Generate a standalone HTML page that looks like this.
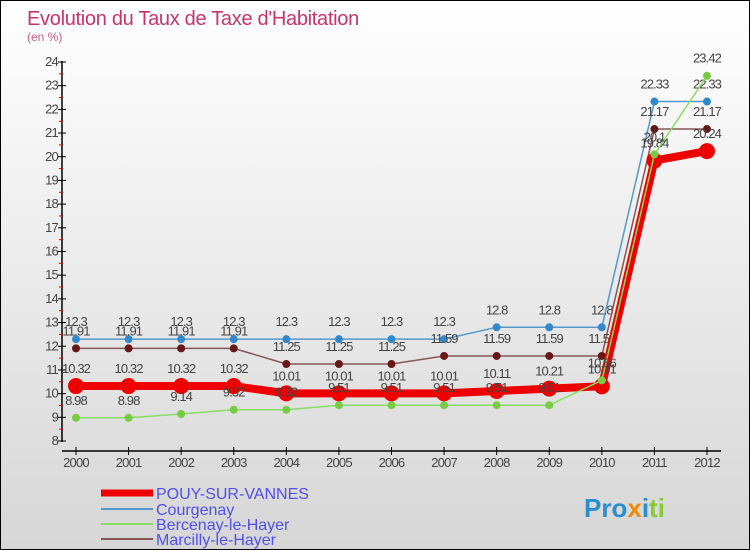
<!DOCTYPE html>
<html><head><meta charset="utf-8"><style>
body{margin:0}
#c{width:750px;height:550px;position:relative;overflow:hidden;box-sizing:border-box;border:1px solid #000;background:linear-gradient(#ffffff,#d6d6d6);font-family:"Liberation Sans",sans-serif}
</style></head><body>
<div id="c">
<svg id="s" width="750" height="550" style="position:absolute;left:0;top:0">
<text x="26" y="24" font-size="20" fill="#c8336a" letter-spacing="-0.3">Evolution du Taux de Taxe d'Habitation</text>
<text x="26" y="40" font-size="12" fill="#d05a88">(en %)</text>
<line x1="61" y1="60" x2="61" y2="441" stroke="#000" stroke-width="1.5"/>
<line x1="61" y1="450" x2="720" y2="450" stroke="#000" stroke-width="1.5"/>
<g id="ax"></g><g id="ser"></g>
<g>
<line x1="100" y1="492" x2="152" y2="492" stroke="#ee0000" stroke-width="7"/>
<text x="155" y="498" font-size="16" fill="#5050ee">POUY-SUR-VANNES</text>
<line x1="100" y1="508" x2="152" y2="508" stroke="#5599cc" stroke-width="2"/>
<text x="155" y="514" font-size="16" fill="#5050ee">Courgenay</text>
<line x1="100" y1="523" x2="152" y2="523" stroke="#88dd66" stroke-width="2"/>
<text x="155" y="529" font-size="16" fill="#5050ee">Bercenay-le-Hayer</text>
<line x1="100" y1="538" x2="152" y2="538" stroke="#885555" stroke-width="2"/>
<text x="155" y="544" font-size="16" fill="#5050ee">Marcilly-le-Hayer</text>
</g>
<text x="583" y="516" font-size="26" font-weight="bold"><tspan fill="#2a8fd0">Pro</tspan><tspan fill="#f08a00">x</tspan><tspan fill="#2a8fd0">i</tspan><tspan fill="#88cc33">ti</tspan></text>
</svg>
</div>
<script>
const years=["2000","2001","2002","2003","2004","2005","2006","2007","2008","2009","2010","2011","2012"];
const yTicks=[8,9,10,11,12,13,14,15,16,17,18,19,20,21,22,23,24];
const pouy=[10.32,10.32,10.32,10.32,10.01,10.01,10.01,10.01,10.11,10.21,10.31,19.84,20.24];
const courgenay=[12.3,12.3,12.3,12.3,12.3,12.3,12.3,12.3,12.8,12.8,12.8,22.33,22.33];
const bercenay=[8.98,8.98,9.14,9.32,9.32,9.51,9.51,9.51,9.51,9.51,10.56,20.1,23.42];
const marcilly=[11.91,11.91,11.91,11.91,11.25,11.25,11.25,11.59,11.59,11.59,11.59,21.17,21.17];
const NS="http://www.w3.org/2000/svg";
const xS=i=>75+i*(706-75)/12;
const yS=v=>440-(v-8)*(440-61)/16;
function mk(t,a,p){const e=document.createElementNS(NS,t);for(const k in a)e.setAttribute(k,a[k]);p.appendChild(e);return e;}
const ax=document.getElementById('ax'),ser=document.getElementById('ser');
yTicks.forEach(v=>{
 const t=mk('line',{x1:57,x2:65,y1:yS(v),y2:yS(v),stroke:'#000'},ax);
 
 const l=mk('text',{x:57,y:yS(v)+4,'font-size':13,fill:'#444','text-anchor':'end','letter-spacing':'-0.8'},ax);l.textContent=v;
 
 if(v<24){const m=mk('line',{x1:58,x2:62,y1:yS(v+0.5),y2:yS(v+0.5),stroke:'#e00'},ax);
 }
});
years.forEach((y,i)=>{
 const t=mk('line',{x1:xS(i),x2:xS(i),y1:446,y2:454,stroke:'#000'},ax);
 
 const l=mk('text',{x:xS(i),y:466,'font-size':13,fill:'#444','text-anchor':'middle','letter-spacing':'-0.8'},ax);l.textContent=y;
 
});
function series(d,name,col,w,r,dot){
 const g=mk('g',{},ser);
 const p=mk('polyline',{points:d.map((v,i)=>xS(i)+','+yS(v)).join(' '),fill:'none',stroke:col,'stroke-width':w,'stroke-linejoin':'round'},g);
 
 d.forEach((v,i)=>{
  const c=mk('circle',{cx:xS(i),cy:yS(v),r:r,fill:dot},g);
  
  const l=mk('text',{x:xS(i),y:yS(v)-13,'font-size':13,fill:'#444','text-anchor':'middle','letter-spacing':'-0.9'},g);l.textContent=v;
  
 });
}
series(courgenay,'courgenay','#5599cc',1.5,4,'#3388cc');
series(marcilly,'marcilly','#885555',1.5,4,'#661818');
series(pouy,'pouy','#ee0000',8,8,'#ee0000');
series(bercenay,'bercenay','#88dd66',1.5,4,'#77cc44');
</script>
</body></html>
